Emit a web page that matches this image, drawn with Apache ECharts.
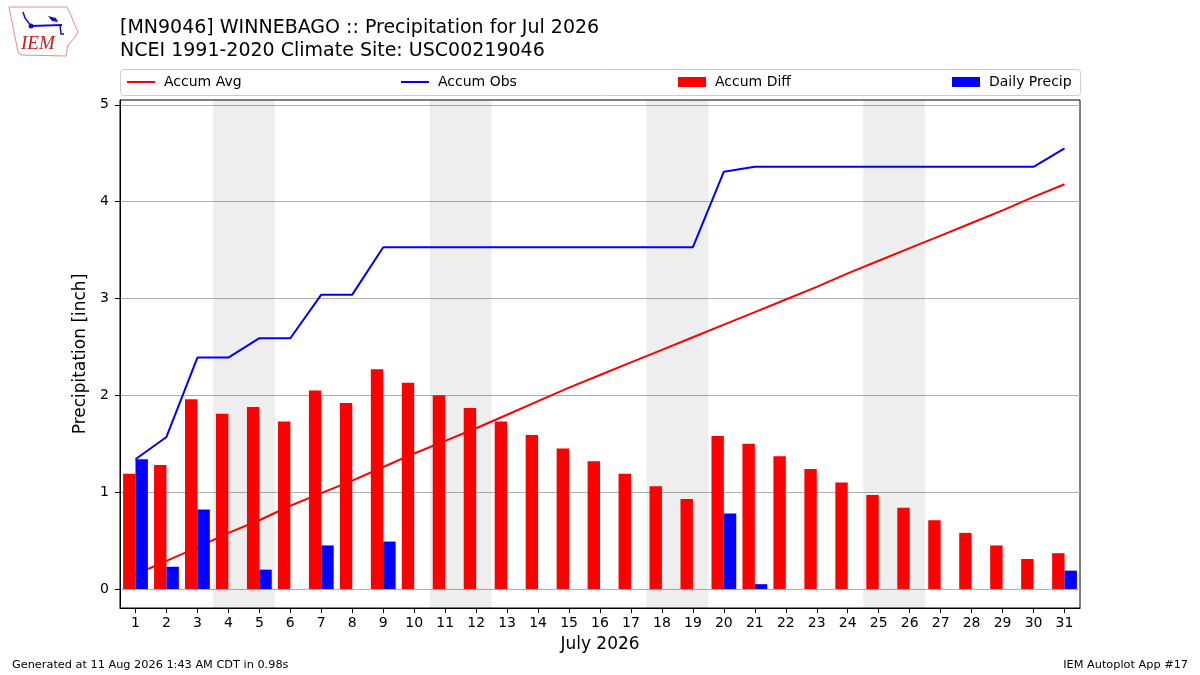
<!DOCTYPE html>
<html>
<head>
<meta charset="utf-8">
<script src="https://cdn.jsdelivr.net/npm/echarts@6.0.0/dist/echarts.min.js"></script>
<style>
    html, body { margin: 0; padding: 0; background: #fff; }
    #container { width: 1200px; height: 675px; }
</style>
</head>
<body>
<div id="container"></div>
<script type="text/javascript">
    // July 2026 data
    var days = [1, 2, 3, 4, 5, 6, 7, 8, 9, 10, 11, 12, 13, 14, 15, 16,
        17, 18, 19, 20, 21, 22, 23, 24, 25, 26, 27, 28, 29, 30, 31];
    var accumAvg = [0.15, 0.29, 0.43, 0.58, 0.71, 0.86, 0.99, 1.12, 1.26, 1.40, 1.53, 1.66, 1.80, 1.94, 2.08, 2.21,
        2.34, 2.47, 2.60, 2.73, 2.86, 2.99, 3.12, 3.26, 3.39, 3.52, 3.65, 3.78, 3.91, 4.05, 4.18];
    var accumObs = [1.34, 1.57, 2.39, 2.39, 2.59, 2.59, 3.04, 3.04, 3.53, 3.53, 3.53, 3.53, 3.53, 3.53, 3.53, 3.53,
        3.53, 3.53, 3.53, 4.31, 4.36, 4.36, 4.36, 4.36, 4.36, 4.36, 4.36, 4.36, 4.36, 4.36, 4.55];
    var accumDiff = [1.19, 1.28, 1.96, 1.81, 1.88, 1.73, 2.05, 1.92, 2.27, 2.13, 2.00, 1.87, 1.73, 1.59, 1.45, 1.32,
        1.19, 1.06, 0.93, 1.58, 1.50, 1.37, 1.24, 1.10, 0.97, 0.84, 0.71, 0.58, 0.45, 0.31, 0.37];
    var dailyPrecip = [1.34, 0.23, 0.82, 0, 0.20, 0, 0.45, 0, 0.49, 0, 0, 0, 0, 0, 0, 0,
        0, 0, 0, 0.78, 0.05, 0, 0, 0, 0, 0, 0, 0, 0, 0, 0.19];
    var yTicks = [0, 1, 2, 3, 4, 5];
    // weekend pairs (Sat, Sun)
    var weekends = [[4, 5], [11, 12], [18, 19], [25, 26]];

    var FONT = 'DejaVu Sans';

    function pairs(vals) {
        return days.map(function (d, i) { return [d, vals[i]]; });
    }

    var myChart = echarts.init(document.getElementById('container'), null, {renderer: 'canvas'});

    // one legend per entry so they spread across the frame like matplotlib's expand mode
    function legendItem(name, left, h) {
        return {
            data: [{name: name, icon: 'rect'}],
            left: left,
            top: 75,
            padding: 0,
            itemWidth: 28,
            itemHeight: h,
            selectedMode: false,
            textStyle: {fontFamily: FONT, fontSize: 14, color: '#000', padding: [0, 0, 0, 4]}
        };
    }

    var option = {
        animation: false,
        backgroundColor: '#fff',
        title: {
            text: '[MN9046] WINNEBAGO :: Precipitation for Jul 2026\nNCEI 1991-2020 Climate Site: USC00219046',
            left: 115,
            top: 12,
            textStyle: {fontFamily: FONT, fontSize: 19, fontWeight: 'normal', color: '#000', lineHeight: 23}
        },
        legend: [
            legendItem('Accum Avg', 127, 2),
            legendItem('Accum Obs', 401, 2),
            legendItem('Accum Diff', 678, 10),
            legendItem('Daily Precip', 952, 10)
        ],
        grid: {
            left: 120, right: 120, top: 100, bottom: 67,
            show: true, borderColor: '#000', borderWidth: 1,
            containLabel: false
        },
        xAxis: {
            type: 'value',
            min: 0.5,
            max: 31.5,
            name: 'July 2026',
            nameLocation: 'middle',
            nameGap: 28,
            nameTextStyle: {fontFamily: FONT, fontSize: 17, color: '#000'},
            axisLine: {show: true, onZero: false, lineStyle: {color: '#000'}},
            axisTick: {show: true, length: 5, customValues: days, lineStyle: {color: '#000'}},
            axisLabel: {customValues: days, margin: 8, fontFamily: FONT, fontSize: 14, color: '#000'},
            splitLine: {show: false}
        },
        yAxis: {
            type: 'value',
            min: -0.196,
            max: 5.05,
            name: 'Precipitation [inch]',
            nameLocation: 'middle',
            nameGap: 20,
            nameTextStyle: {fontFamily: FONT, fontSize: 17, color: '#000'},
            axisLine: {show: true, lineStyle: {color: '#000'}},
            axisTick: {show: true, length: 5, customValues: yTicks, lineStyle: {color: '#000'}},
            axisLabel: {customValues: yTicks, margin: 11, fontFamily: FONT, fontSize: 14, color: '#000'},
            splitLine: {show: true, lineStyle: {color: '#b0b0b0', width: 1}}
        },
        series: [
            {
                name: 'weekend',
                type: 'line',
                data: [[1, 0]],
                symbol: 'none',
                lineStyle: {opacity: 0},
                silent: true,
                z: 0,
                markArea: {
                    silent: true,
                    itemStyle: {color: 'rgba(0,0,0,0.068)'},
                    data: weekends.map(function (w) {
                        return [{xAxis: w[0] - 0.5}, {xAxis: w[1] + 0.5}];
                    })
                }
            },
            {
                name: 'Accum Avg',
                type: 'line',
                data: pairs(accumAvg),
                symbol: 'none',
                z: 1,
                color: '#ff0000',
                lineStyle: {color: '#ff0000', width: 2}
            },
            {
                name: 'Accum Obs',
                type: 'line',
                data: pairs(accumObs),
                symbol: 'none',
                z: 1,
                color: '#0000ff',
                lineStyle: {color: '#0000ff', width: 2}
            },
            {
                name: 'Accum Diff',
                type: 'bar',
                data: pairs(accumDiff),
                barWidth: 12.4,
                barGap: '0%',
                z: 3,
                itemStyle: {color: '#ff0000'}
            },
            {
                name: 'Daily Precip',
                type: 'bar',
                data: pairs(dailyPrecip),
                barWidth: 12.4,
                barGap: '0%',
                z: 3,
                itemStyle: {color: '#0000ff'}
            }
        ],
        graphic: [
            // legend frame
            {
                type: 'rect', left: 120, top: 69, z: -1,
                shape: {width: 960, height: 26, r: 3},
                style: {fill: '#fff', stroke: '#cccccc', lineWidth: 1}
            },
            // IEM logo, rough sketch
            {
                type: 'polyline',
                shape: {points: [[9, 7], [67, 7], [70, 13], [74, 23], [78, 32], [75, 37], [71, 42],
                    [68, 45], [67, 50], [66, 56], [21, 55], [18, 52], [15, 37], [9, 7]]},
                style: {stroke: '#e88a8a', lineWidth: 1, fill: null}
            },
            {
                type: 'polyline',
                shape: {points: [[31, 26], [62, 25]]},
                style: {stroke: '#1010d0', lineWidth: 2}
            },
            {
                type: 'polyline',
                shape: {points: [[23, 12], [25, 18], [31, 26]]},
                style: {stroke: '#1010d0', lineWidth: 1.5}
            },
            {
                type: 'circle',
                shape: {cx: 31, cy: 26, r: 2.5},
                style: {fill: '#1010d0'}
            },
            {
                type: 'polygon',
                shape: {points: [[48, 16], [56, 18], [58, 22], [52, 21]]},
                style: {fill: '#1010d0'}
            },
            {
                type: 'polyline',
                shape: {points: [[60, 25], [61, 34], [64, 34]]},
                style: {stroke: '#1010d0', lineWidth: 1.5}
            },
            {
                type: 'text', left: 21, top: 34,
                style: {text: 'IEM', font: 'italic 19px "Liberation Serif"', fill: '#d01818'}
            },
            // footer
            {
                type: 'text', left: 12, top: 660,
                style: {text: 'Generated at 11 Aug 2026 1:43 AM CDT in 0.98s', font: '11.3px "DejaVu Sans"', fill: '#000'}
            },
            {
                type: 'text', right: 12, top: 660,
                style: {text: 'IEM Autoplot App #17', font: '11.3px "DejaVu Sans"', fill: '#000'}
            }
        ]
    };

    if (option && typeof option === "object") {
        myChart.setOption(option, true);
    }
</script>
</body>
</html>
